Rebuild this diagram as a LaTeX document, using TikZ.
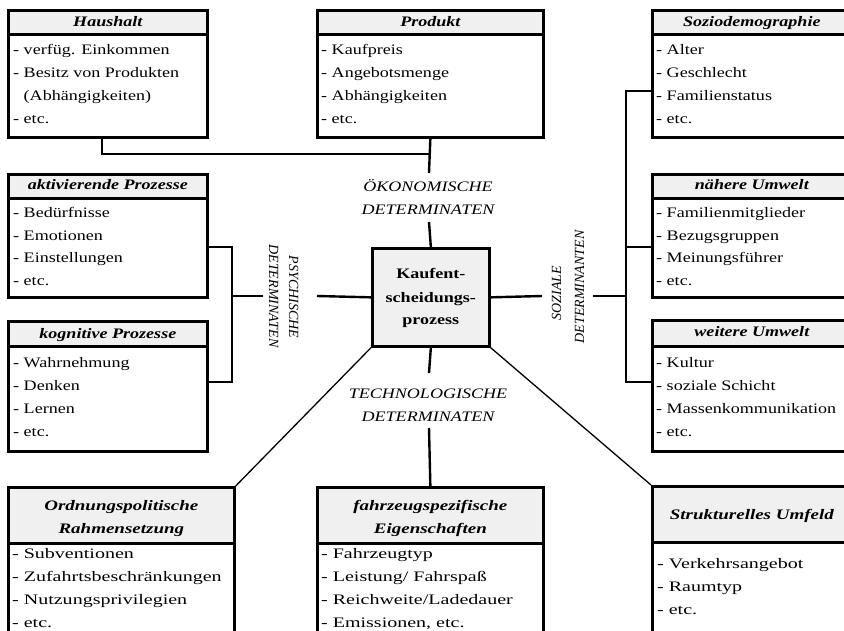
\documentclass[tikz,border=0pt]{standalone}
\usepackage{fontspec}
\setmainfont{Liberation Serif}[FakeStretch=1.245]
\newfontfamily\rotfont{Liberation Serif}
\newfontfamily\widefont{Liberation Serif}[FakeStretch=1.38]
\newfontfamily\midfont{Liberation Serif}[FakeStretch=1.31]
\newcommand\bodyfont{\fontsize{14.5}{22.8}\selectfont}
\newcommand\widebodyfont{\widefont\fontsize{14.5}{22.8}\selectfont}
\newcommand\ttlfont{\fontsize{14.5}{22.8}\selectfont\bfseries\itshape}
\newcommand\widettlfont{\midfont\fontsize{14.5}{22.8}\selectfont\bfseries\itshape}
\newcommand\lblfont{\fontsize{14.5}{22.8}\selectfont\itshape}
\newcommand\rlblfont{\rotfont\fontsize{14}{20}\selectfont\itshape}
\definecolor{bandgray}{HTML}{F0F0F0}
\tikzset{
  box/.style={draw, line width=2.7pt, anchor=north west, inner sep=0pt, minimum width=#1},
  band/.style={draw, line width=2.7pt, fill=bandgray, anchor=north west, inner sep=0pt},
  conn/.style={line width=2.4pt},
  diag/.style={line width=1.3pt},
  body/.style={anchor=base west, inner sep=0pt, font=\bodyfont},
  wbody/.style={anchor=base west, inner sep=0pt, font=\widebodyfont},
  ttl/.style={anchor=base, inner sep=0pt, font=\ttlfont},
  wttl/.style={anchor=base, inner sep=0pt, font=\widettlfont},
  lbl/.style={anchor=base, inner sep=0pt, font=\lblfont},
  rlbl/.style={anchor=base, inner sep=0pt, font=\rlblfont},
  ctr/.style={anchor=base, inner sep=0pt, font=\bodyfont\bfseries},
}
\begin{document}
\begin{tikzpicture}[x=1pt, y=-1pt]
\useasboundingbox (0,0) rectangle (844,631);
\clip (0,0) rectangle (844,631);
% ---------- boxes ----------
\node[box=199, minimum height=127] (haus) at (7,9) {};
\node[band, minimum width=199, minimum height=24] (hausT) at (7,9) {};
\node[box=226, minimum height=127] (prod) at (316,9) {};
\node[band, minimum width=226, minimum height=24] (prodT) at (316,9) {};
\node[box=199, minimum height=127] (sozio) at (651,9) {};
\node[band, minimum width=199, minimum height=24] (sozioT) at (651,9) {};
\node[box=199, minimum height=123] (akt) at (7,173) {};
\node[band, minimum width=199, minimum height=24] (aktT) at (7,173) {};
\node[box=199, minimum height=130] (kog) at (7,320) {};
\node[band, minimum width=199, minimum height=25] (kogT) at (7,320) {};
\node[box=199, minimum height=123] (naeh) at (651,173) {};
\node[band, minimum width=199, minimum height=24] (naehT) at (651,173) {};
\node[box=199, minimum height=131] (weit) at (651,319) {};
\node[band, minimum width=199, minimum height=26] (weitT) at (651,319) {};
\node[box=226, minimum height=200] (ord) at (7,486) {};
\node[band, minimum width=226, minimum height=56] (ordT) at (7,486) {};
\node[box=226, minimum height=200] (fahr) at (316,486) {};
\node[band, minimum width=226, minimum height=56] (fahrT) at (316,486) {};
\node[box=199, minimum height=200] (strukt) at (651,485) {};
\node[band, minimum width=199, minimum height=56] (struktT) at (651,485) {};
\node[band, minimum width=117, minimum height=98] (center) at (371,247) {};
% ---------- titles ----------
\node[ttl] (t1) at (hausT.center |- 0,27) {Haushalt};
\node[ttl] (t2) at (prodT.center |- 0,27) {Produkt};
\node[ttl] (t3) at (sozioT.center |- 0,27) {Soziodemographie};
\node[ttl] (t4) at (aktT.center |- 0,190) {aktivierende Prozesse};
\node[ttl] (t5) at (kogT.center |- 0,338) {kognitive Prozesse};
\node[ttl] (t6) at (naehT.center |- 0,190) {nähere Umwelt};
\node[ttl] (t7) at (weitT.center |- 0,337) {weitere Umwelt};
\node[wttl] (t8a) at (ordT.center |- 0,510) {Ordnungspolitische};
\node[wttl] (t8b) at (ordT.center |- 0,533) {Rahmensetzung};
\node[wttl] (t9a) at (fahrT.center |- 0,510) {fahrzeugspezifische};
\node[wttl] (t9b) at (fahrT.center |- 0,533) {Eigenschaften};
\node[wttl] (t10) at (struktT.center |- 0,519) {Strukturelles Umfeld};
% ---------- bodies ----------
\node[body] (h1) at (13,55) {- verfüg. Einkommen};
\node[body] (h2) at (13,78) {- Besitz von Produkten};
\node[body] (h3) at (13,101) {\phantom{- }(Abhängigkeiten)};
\node[body] (h4) at (13,123.5) {- etc.};
\node[body] (p1) at (321,55) {- Kaufpreis};
\node[body] (p2) at (321,78) {- Angebotsmenge};
\node[body] (p3) at (321,101) {- Abhängigkeiten};
\node[body] (p4) at (321,123.5) {- etc.};
\node[body] (s1) at (656,55) {- Alter};
\node[body] (s2) at (656,78) {- Geschlecht};
\node[body] (s3) at (656,101) {- Familienstatus};
\node[body] (s4) at (656,123.5) {- etc.};
\node[body] (a1) at (13,218) {- Bedürfnisse};
\node[body] (a2) at (13,240.5) {- Emotionen};
\node[body] (a3) at (13,263) {- Einstellungen};
\node[body] (a4) at (13,286) {- etc.};
\node[body] (k1) at (13,367) {- Wahrnehmung};
\node[body] (k2) at (13,390) {- Denken};
\node[body] (k3) at (13,413) {- Lernen};
\node[body] (k4) at (13,436) {- etc.};
\node[body] (n1) at (656,218) {- Familienmitglieder};
\node[body] (n2) at (656,240.5) {- Bezugsgruppen};
\node[body] (n3) at (656,263) {- Meinungsführer};
\node[body] (n4) at (656,286) {- etc.};
\node[body] (w1) at (656,367) {- Kultur};
\node[body] (w2) at (656,390) {- soziale Schicht};
\node[body] (w3) at (656,413) {- Massenkommunikation};
\node[body] (w4) at (656,436) {- etc.};
\node[wbody] (o1) at (12,558) {- Subventionen};
\node[wbody] (o2) at (12,581) {- Zufahrtsbeschränkungen};
\node[wbody] (o3) at (12,604) {- Nutzungsprivilegien};
\node[wbody] (o4) at (12,627) {- etc.};
\node[wbody] (f1) at (321,558) {- Fahrzeugtyp};
\node[wbody] (f2) at (321,581) {- Leistung/ Fahrspaß};
\node[wbody] (f3) at (321,604) {- Reichweite/Ladedauer};
\node[wbody] (f4) at (321,627) {- Emissionen, etc.};
\node[wbody] (u1) at (657,568) {- Verkehrsangebot};
\node[wbody] (u2) at (657,591) {- Raumtyp};
\node[wbody] (u3) at (657,614) {- etc.};
% ---------- center ----------
\node[ctr] (c1) at (center.center |- 0,279) {Kaufent-};
\node[ctr] (c2) at (center.center |- 0,302) {scheidungs-};
\node[ctr] (c3) at (center.center |- 0,325) {prozess};
% ---------- labels ----------
\node[lbl] (ok1) at (428,192) {ÖKONOMISCHE};
\node[lbl] (ok2) at (428,215) {DETERMINATEN};
\node[lbl] (te1) at (428,398) {TECHNOLOGISCHE};
\node[lbl] (te2) at (428,421) {DETERMINATEN};
\node[rlbl, rotate=-90] (ps1) at (289,297) {PSYCHISCHE};
\node[rlbl, rotate=-90] (ps2) at (269,296) {DETERMINATEN};
\node[rlbl, rotate=90] (so1) at (561,293) {SOZIALE};
\node[rlbl, rotate=90] (so2) at (584,287) {DETERMINANTEN};
% ---------- connector points ----------
\coordinate (hj) at (102,154);
\coordinate (okA) at (429,173);
\coordinate (okB) at (429,222);
\coordinate (tA) at (429,373);
\coordinate (tB) at (429,428);
\coordinate (pL) at (317,296);
\coordinate (pR) at (263,296);
\coordinate (pb) at (232,296);
\coordinate (b1) at (232,247);
\coordinate (b2) at (232,382);
\coordinate (sR) at (542,296);
\coordinate (sL) at (593,296);
\coordinate (cm) at (626,296);
\coordinate (cq1) at (626,91);
\coordinate (cn) at (626,247);
\coordinate (cq2) at (626,382);
% ---------- connectors ----------
\draw[conn] (haus.south -| hj) -- (hj) -- (hj -| prod.south);
\draw[conn] (prod.south) -- (okA);
\draw[conn] (okB) -- (center.north);
\draw[conn] (center.south) -- (tA);
\draw[conn] (tB) -- (fahr.north);
\draw[conn] (center.west) -- (pL);
\draw[conn] (pR) -- (pb);
\draw[conn] (akt.east |- b1) -- (b1) -- (b2) -- (kog.east |- b2);
\draw[conn] (center.east) -- (sR);
\draw[conn] (sL) -- (cm);
\draw[conn] (sozio.west |- cq1) -- (cq1) -- (cq2) -- (weit.west |- cq2);
\draw[conn] (cn) -- (naeh.west |- cn);
\draw[diag] (center.south west) -- (ord.north east);
\draw[diag] (center.south east) -- (strukt.north west);
\end{tikzpicture}
\end{document}
